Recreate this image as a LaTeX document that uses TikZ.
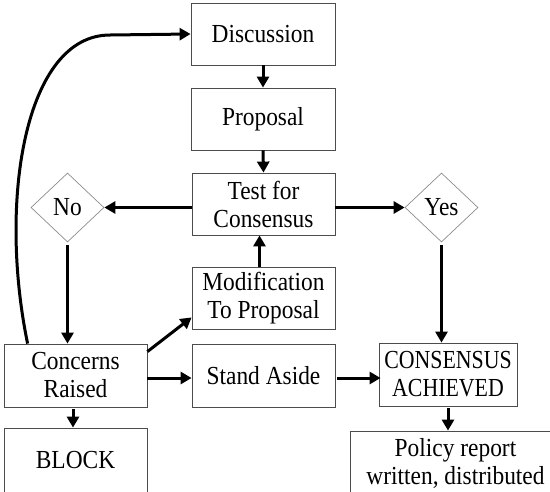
\documentclass[tikz,border=0pt]{standalone}
\usepackage{fontspec}
\setmainfont{Liberation Serif}[FakeStretch=0.9]
\newfontfamily\narrowserif{Liberation Serif}[FakeStretch=0.84]
\usetikzlibrary{arrows.meta,shapes.geometric}
\begin{document}
\begin{tikzpicture}[x=1pt,y=-1pt,
  box/.style={draw=black!70,line width=0.8pt,rectangle,inner sep=0pt,align=center,
    font=\fontsize{26}{28}\selectfont},
  dia/.style={draw=black!45,line width=0.7pt,diamond,inner sep=0pt,minimum width=73pt,minimum height=69pt,
    font=\fontsize{26}{28}\selectfont},
  arr/.style={line width=3pt,-{Triangle[length=11pt,width=12pt]}}]
\useasboundingbox (0,0) rectangle (550,491);
\clip (0,0) rectangle (550,491);
\node[box,minimum width=144pt,minimum height=62pt] (disc) at (263,34) {Discussion};
\node[box,minimum width=144pt,minimum height=62pt] (prop) at (263,119) {Proposal};
\node[box,minimum width=143pt,minimum height=62pt] (test) at (263.5,204) {Test for\\Consensus};
\node[box,minimum width=143pt,minimum height=62pt] (mod) at (263.5,298) {Modification\\To Proposal};
\node[box,minimum width=143pt,minimum height=63pt] (stand) at (263.5,375.5) {Stand Aside};
\node[box,minimum width=143pt,minimum height=63pt] (conc) at (75.5,375.5) {Concerns\\Raised};
\node[box,minimum width=143pt,minimum height=64pt] (block) at (75.5,460) {BLOCK};
\node[box,minimum width=138pt,minimum height=63pt,font=\narrowserif\fontsize{26}{28}\selectfont] (cons) at (448,374.5) {CONSENSUS\\ACHIEVED};
\node[box,minimum width=211pt,minimum height=64pt] (pol) at (455.5,463) {Policy report\\written, distributed};
\node[dia] (no) at (67.5,207.5) {No};
\node[dia] (yes) at (441.5,207.5) {Yes};
\draw[arr] (disc.south) -- (prop.north);
\draw[arr] (prop.south) -- (test.north);
\draw[arr] (test.west |- no.east) -- (no.east);
\draw[arr] (test.east |- yes.west) -- (yes.west);
\draw[arr] ([xshift=-4pt]mod.north) -- ([xshift=-4pt]test.south);
\draw[arr] ([yshift=-3pt]no.south) -- (no.south |- conc.north);
\draw[arr] ([yshift=-3pt]yes.south) -- (yes.south |- cons.north);
\draw[arr] ([xshift=-2.5pt,yshift=-2pt]conc.south) -- ([xshift=-2.5pt]conc.south |- block.north);
\draw[arr] ([yshift=-2pt]cons.south) -- (cons.south |- pol.north);
\draw[arr] ([yshift=-2.5pt]conc.east) -- ([yshift=-2.5pt]stand.west);
\draw[arr] ([xshift=2pt,yshift=-2.5pt]stand.east) -- ([xshift=2pt,yshift=-2.5pt]stand.east -| cons.west);
\draw[arr] ([yshift=-8pt]conc.north east) -- ([yshift=12pt]mod.south west);
\draw[arr] ([xshift=24pt]conc.north west) .. controls (-2,200) and (25,35) .. (110,35) -- (disc.west);
\end{tikzpicture}
\end{document}
